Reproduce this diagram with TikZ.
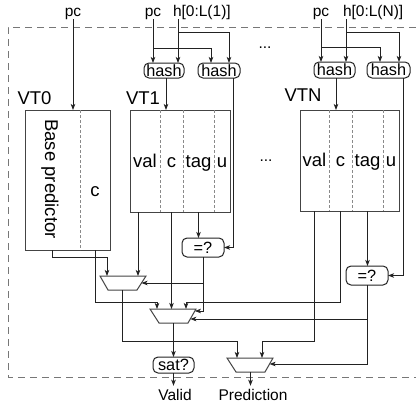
\documentclass[tikz,border=0pt]{standalone}
\usepackage{fontspec}
\setmainfont{Liberation Sans}
\usetikzlibrary{arrows.meta,calc}
\definecolor{ink}{HTML}{222222}
\definecolor{tbl}{HTML}{444444}
\definecolor{divc}{HTML}{8A8A8A}
\definecolor{brd}{HTML}{777777}
\begin{document}
\begin{tikzpicture}[x=1pt,y=-1pt,
  every node/.style={inner sep=0pt, outer sep=0pt},
  lbl/.style={font=\fontsize{15.5}{18}\selectfont},
  big/.style={font=\fontsize{18.5}{22}\selectfont},
  rbox/.style={draw=ink, line width=1pt, rounded corners=5pt, fill=white, font=\fontsize{16.3}{18}\selectfont},
  tabbox/.style={draw=tbl, line width=1pt},
  col/.style={big, text height=15pt, text depth=3pt},
  div/.style={draw=divc, line width=0.8pt, dash pattern=on 3pt off 2pt},
  mux/.style={draw=tbl, line width=1pt, fill=white},
  arr/.style={draw=ink, line width=0.9pt, -{Stealth[length=6pt,width=4.5pt,inset=1.5pt]}},
  border/.style={draw=brd, line width=1pt, dash pattern=on 7pt off 5pt}
]
\path[use as bounding box] (0,0) rectangle (416,407);

% dashed enclosure
\draw[border] (416,27) -- (8,27) -- (8,377) -- (416,377);

% top inputs
\node[lbl, anchor=base] (pc0) at (73,16) {pc};
\node[lbl, anchor=base] (pc1) at (153,16) {pc};
\node[lbl, anchor=base west] (hl1) at (173,16) {h[0:L(1)]};
\node[lbl, anchor=base] (pcN) at (321,16) {pc};
\node[lbl, anchor=base west] (hlN) at (343,16) {h[0:L(N)]};
\node[lbl, anchor=base] (dots1) at (265,48) {...};
\node[lbl, anchor=base] (dots2) at (266,161) {...};

% hash units
\node[rbox, minimum width=40pt, minimum height=15pt] (h1a) at (164,70.5) {hash};
\node[rbox, minimum width=42pt, minimum height=15pt] (h1b) at (219,70.5) {hash};
\node[rbox, minimum width=41pt, minimum height=16pt] (hNa) at (334.5,70) {hash};
\node[rbox, minimum width=43pt, minimum height=16pt] (hNb) at (388.5,70) {hash};

% table labels
\node[big, anchor=base] (l0) at (34.5,104) {VT0};
\node[big, anchor=base] (l1) at (143,104) {VT1};
\node[big, anchor=base] (lN) at (303,101) {VTN};

% VT0
\node[tabbox, minimum width=85pt, minimum height=140pt] (vt0) at (67.5,180) {};
\node[minimum width=55pt, minimum height=140pt] (v0b) at (52.5,180) {};
\node[minimum width=30pt, minimum height=140pt] (v0c) at (95,180) {};
\draw[div] (v0b.north east) -- (v0b.south east);
\node[big, rotate=-90] (t0b) at (50,179) {Base predictor};
\node[big, anchor=base] (t0c) at (95,196) {c};

% VT1
\node[tabbox, minimum width=100pt, minimum height=102pt] (vt1) at (180,161) {};
\node[col, minimum width=30pt, minimum height=102pt] (v1val) at (145,161) {val};
\node[col, minimum width=23pt, minimum height=102pt] (v1c) at (171.5,161) {c};
\node[col, minimum width=31pt, minimum height=102pt] (v1tag) at (198.5,161) {tag};
\node[col, minimum width=16pt, minimum height=102pt] (v1u) at (222,161) {u};
\draw[div] (v1val.north east) -- (v1val.south east);
\draw[div] (v1c.north east) -- (v1c.south east);
\draw[div] (v1tag.north east) -- (v1tag.south east);

% VTN
\node[tabbox, minimum width=99pt, minimum height=101pt] (vtN) at (349.5,160.5) {};
\node[col, minimum width=29pt, minimum height=101pt] (vNval) at (314.5,160.5) {val};
\node[col, minimum width=23pt, minimum height=101pt] (vNc) at (340.5,160.5) {c};
\node[col, minimum width=31pt, minimum height=101pt] (vNtag) at (367.5,160.5) {tag};
\node[col, minimum width=16pt, minimum height=101pt] (vNu) at (391,160.5) {u};
\draw[div] (vNval.north east) -- (vNval.south east);
\draw[div] (vNc.north east) -- (vNc.south east);
\draw[div] (vNtag.north east) -- (vNtag.south east);

% comparators
\node[rbox, minimum width=42pt, minimum height=19pt] (eq1) at (203,247.5) {=?};
\node[rbox, minimum width=42pt, minimum height=19pt] (eqN) at (367,275.5) {=?};
\node[rbox, minimum width=41pt, minimum height=16pt] (sat) at (173.5,365) {sat?};

% outputs
\node[lbl, anchor=base] (valid) at (175,400) {Valid};
\node[lbl, anchor=base] (pred) at (253,400) {Prediction};

% muxes
\draw[mux] (100,276) -- (146,276) -- (137,290) -- (108,290) -- cycle;
\draw[mux] (150,309) -- (196,309) -- (188,323) -- (159,323) -- cycle;
\draw[mux] (227,358) -- (273,358) -- (265,372) -- (236,372) -- cycle;
\coordinate (m1a) at (107,276);
\coordinate (m1b) at (138,276);
\coordinate (m1r) at (141.5,283);
\coordinate (m1o) at (122.5,290);
\coordinate (m2a) at (157,309);
\coordinate (m2b) at (171.5,309);
\coordinate (m2c) at (186,309);
\coordinate (m2r1) at (194.9,311);
\coordinate (m2r2) at (190.3,319);
\coordinate (m2o) at (173.5,323);
\coordinate (m3a) at (237,358);
\coordinate (m3b) at (262,358);
\coordinate (m3r) at (269.6,364);
\coordinate (m3o) at (250.5,372);

% input wiring
\coordinate (h1s) at (hl1.south -| 178,0);
\coordinate (hNs) at (hlN.south -| 346,0);
\draw[arr] (pc0.south) -- (pc0.south |- vt0.north);
\draw[arr] (pc1.south) -- (pc1.south |- h1a.north);
\draw[arr] (pc1.south |- 0,48) -| ([xshift=-8pt]h1b.north);
\draw[arr] (h1s) -- (h1s |- h1a.north);
\draw[arr] (h1s |- 0,32) -| ([xshift=10pt]h1b.north);
\draw[arr] (pcN.south) -- (pcN.south |- hNa.north);
\draw[arr] (pcN.south |- 0,47) -| ([xshift=-8.5pt]hNb.north);
\draw[arr] (hNs) -- (hNs |- hNa.north);
\draw[arr] (hNs |- 0,32) -| ([xshift=10.5pt]hNb.north);

% hash outputs
\draw[arr] ([xshift=2pt]h1a.south) -- ([xshift=2pt]h1a.south |- vt1.north);
\draw[arr] ([xshift=1.5pt]hNa.south) -- ([xshift=1.5pt]hNa.south |- vtN.north);
\draw[arr] ([xshift=14pt]h1b.south) |- (eq1.east);
\draw[arr] ([xshift=14.5pt]hNb.south) |- (eqN.east);
\draw[arr] (v1tag.south) -- (v1tag.south |- eq1.north);
\draw[arr] (vNtag.south) -- (vNtag.south |- eqN.north);

% datapath
\draw[arr] (v0b.south) -- ++(0,7) -| (m1a);
\draw[arr] (v1val.south -| m1b) -- (m1b);
\draw[arr] (eq1.south) |- (m2r1);
\draw[arr] (eq1.south |- m1r) -- (m1r);
\draw[arr] (v0c.south) -- ++(0,52) -| (m2a);
\draw[arr] (v1c.south) -- (m2b);
\draw[arr] (vNc.south) -- ++(0,91) -| (m2c);
\draw[arr] (eqN.south) |- (m3r);
\draw[arr] (eqN.south |- m2r2) -- (m2r2);
\draw[arr] (m1o) -- ++(0,51) -| (m3a);
\draw[arr] (vNval.south) -- ++(0,130) -| (m3b);
\draw[arr] (m2o) -- (sat.north);
\draw[arr] (sat.south) -- ([yshift=3pt]sat.south |- valid.north);
\draw[arr] (m3o) -- ([yshift=3pt]m3o |- pred.north);
\end{tikzpicture}
\end{document}
